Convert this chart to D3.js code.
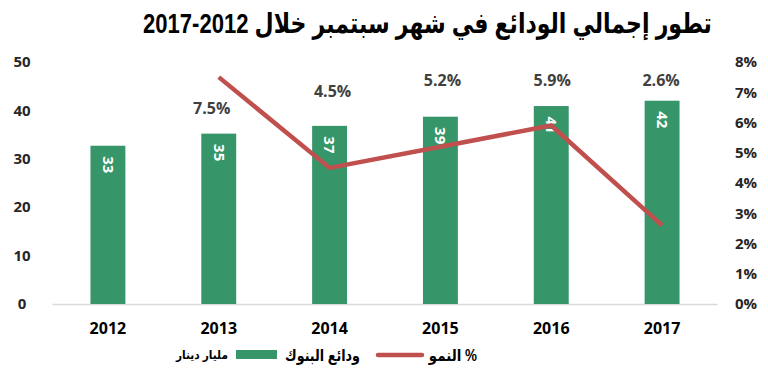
<!DOCTYPE html>
<html>
<head>
<meta charset="utf-8">
<script src="https://cdn.jsdelivr.net/npm/d3@7"></script>
<style>
  body { margin: 0; background: #fff; }
  svg { display: block; }
  .tick-label { font-family: "Open Sans", "DejaVu Sans", sans-serif; font-weight: 700; font-size: 15px; fill: #262626; }
  .arabic { font-family: "Liberation Sans", "DejaVu Sans", sans-serif; font-weight: 700; fill: #000; }
</style>
</head>
<body>
<div id="chart"></div>
<script>
// Data
const years = ["2012", "2013", "2014", "2015", "2016", "2017"];
const deposits = [32.7, 35.2, 36.8, 38.7, 40.9, 42.0];   // مليار دينار
const growthYears = ["2013", "2014", "2015", "2016", "2017"];
const growth = [7.5, 4.5, 5.2, 5.9, 2.6];               // %
const leftTicks = [0, 10, 20, 30, 40, 50];
const rightTicks = [0, 1, 2, 3, 4, 5, 6, 7, 8];

const width = 768;
const height = 377;
const green = "#36966a";
const red = "#c0504d";

// growth label placement (pixel offsets, as laid out in the original)
const growthLabelPos = [[-7, 108], [3, 91], [2, 80], [1, 80], [-1, 80]];

const svg = d3.select("#chart")
  .append("svg")
    .attr("width", width)
    .attr("height", height);

// Arabic text at a given font size, squeezed horizontally to span [left, right]
const fitText = (text, left, right, y, size) => {
  const g = svg.append("g");
  const t = g.append("text")
      .attr("class", "arabic")
      .attr("direction", "rtl")
      .attr("text-anchor", "middle")
      .attr("dy", "0.35em")
      .style("font-size", size + "px")
      .text(text);
  const bb = t.node().getBBox();
  const sx = (right - left) / bb.width;
  const cx = bb.x + bb.width / 2;
  g.attr("transform", `translate(${(left + right) / 2}, ${y}) scale(${sx}, 1) translate(${-cx}, 0)`);
  return g;
};

/****************************/
/*    Declare the scales    */
/****************************/
const xScale = d3.scaleBand()
  .domain(years)
  .range([52.5, 717.5])
  .paddingInner(0.685)
  .paddingOuter(0.3425);

const yScale = d3.scaleLinear()
  .domain([0, 50])
  .range([304, 62]);

const yRight = d3.scaleLinear()
  .domain([0, 8])
  .range([304, 62]);

const xCenter = d => xScale(d) + xScale.bandwidth() / 2;

/***************************/
/*        Title            */
/***************************/
fitText("تطور إجمالي الودائع في شهر سبتمبر خلال 2012-2017", 143, 712, 23, 28);

/***************************/
/*     Append the axes     */
/***************************/
svg.append("line")
    .attr("x1", 52.5)
    .attr("x2", 717.5)
    .attr("y1", yScale(0) + 0.5)
    .attr("y2", yScale(0) + 0.5)
    .attr("stroke", "#d9d9d9")
    .attr("stroke-width", 1.5);

svg.selectAll(".left-tick")
  .data(leftTicks)
  .join("text")
    .attr("class", "tick-label left-tick")
    .attr("x", 22)
    .attr("y", d => yScale(d))
    .attr("dy", "0.35em")
    .attr("text-anchor", "middle")
    .text(d => d);

svg.selectAll(".right-tick")
  .data(rightTicks)
  .join("text")
    .attr("class", "tick-label right-tick")
    .attr("x", 746)
    .attr("y", d => yRight(d))
    .attr("dy", "0.35em")
    .attr("text-anchor", "middle")
    .text(d => d + "%");

svg.selectAll(".x-tick")
  .data(years)
  .join("text")
    .attr("class", "tick-label x-tick")
    .attr("x", d => xCenter(d))
    .attr("y", 328)
    .attr("dy", "0.35em")
    .attr("text-anchor", "middle")
    .style("font-size", "16px")
    .style("fill", "#000")
    .text(d => d);

/***************************/
/*        Bars             */
/***************************/
const barData = years.map((y, i) => ({ year: y, value: deposits[i] }));

svg.selectAll(".bar")
  .data(barData)
  .join("rect")
    .attr("class", "bar")
    .attr("x", d => xScale(d.year))
    .attr("y", d => yScale(d.value))
    .attr("width", xScale.bandwidth())
    .attr("height", d => yScale(0) - yScale(d.value))
    .attr("fill", green);

svg.selectAll(".bar-label")
  .data(barData)
  .join("text")
    .attr("class", "bar-label")
    .attr("transform", d => `translate(${xCenter(d.year)}, ${yScale(d.value) + 19}) rotate(90)`)
    .attr("text-anchor", "middle")
    .attr("dy", "0.35em")
    .style("font-family", "'Open Sans', 'DejaVu Sans', sans-serif")
    .style("font-weight", 700)
    .style("font-size", "15px")
    .attr("fill", "#fff")
    .text(d => d3.format(".0f")(d.value));

/***************************/
/*        Line             */
/***************************/
const lineData = growthYears.map((y, i) => ({ year: y, value: growth[i] }));

const lineGenerator = d3.line()
  .x(d => xCenter(d.year))
  .y(d => yRight(d.value));

svg.append("path")
    .datum(lineData)
    .attr("d", lineGenerator)
    .attr("fill", "none")
    .attr("stroke", red)
    .attr("stroke-width", 4.5)
    .attr("stroke-linejoin", "round");

svg.selectAll(".growth-label")
  .data(lineData)
  .join("text")
    .attr("class", "growth-label")
    .attr("x", (d, i) => xCenter(d.year) + growthLabelPos[i][0])
    .attr("y", (d, i) => growthLabelPos[i][1])
    .attr("dy", "0.35em")
    .attr("text-anchor", "middle")
    .style("font-family", "'Open Sans', 'DejaVu Sans', sans-serif")
    .style("font-weight", 700)
    .style("font-size", "16px")
    .attr("fill", "#404040")
    .text(d => d.value.toFixed(1) + "%");

/***************************/
/*        Legend           */
/***************************/
svg.append("line")
    .attr("x1", 378).attr("x2", 422)
    .attr("y1", 355).attr("y2", 355)
    .attr("stroke", red)
    .attr("stroke-width", 4.5)
    .attr("stroke-linecap", "round");

fitText("% النمو", 428, 477, 355, 16);

svg.append("rect")
    .attr("x", 236).attr("y", 350)
    .attr("width", 41).attr("height", 9)
    .attr("fill", green);

fitText("ودائع البنوك", 285, 360, 355, 16);

fitText("مليار دينار", 175, 228, 355, 12);
</script>
</body>
</html>
